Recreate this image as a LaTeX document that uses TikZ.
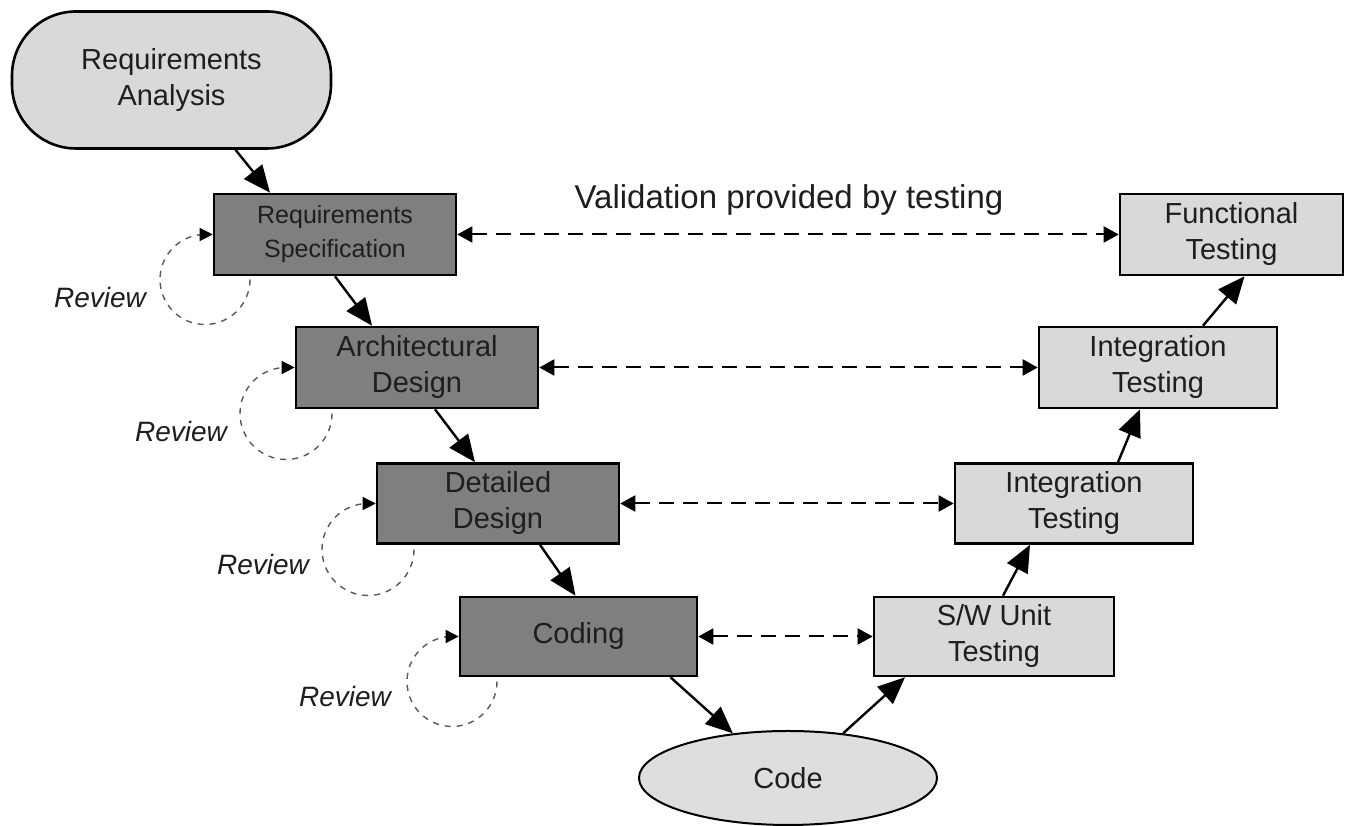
\documentclass[tikz,border=0pt]{standalone}
\usepackage{fontspec}
\setmainfont{Liberation Sans}
\usetikzlibrary{arrows.meta,shapes.geometric}
\definecolor{darkfill}{HTML}{7F7F7F}
\definecolor{lightfill}{HTML}{D9D9D9}
\definecolor{codefill}{HTML}{DEDEDE}
\definecolor{txt}{HTML}{1E1E1E}
\begin{document}
\begin{tikzpicture}[x=1pt,y=1pt,
  boxbase/.style={draw=black, line width=2.6pt, minimum height=81pt, inner sep=0pt, align=center, text=txt, font=\fontsize{29}{36}\selectfont},
  darkbox/.style={boxbase, fill=darkfill, minimum width=242pt},
  lightbox/.style={boxbase, fill=lightfill, minimum width=238pt},
  flow/.style={line width=2.4pt, -{Triangle[length=27pt,width=23pt]}},
  valid/.style={line width=2pt, dash pattern=on 15pt off 9pt, {Triangle[length=15pt,width=16pt]}-{Triangle[length=15pt,width=16pt]}},
  loopline/.style={line width=1.4pt, draw=black!65, dash pattern=on 6pt off 6pt, -{Triangle[length=13pt,width=13pt,color=black]}},
  reviewlbl/.style={font=\fontsize{28}{34}\selectfont\itshape, text=txt}
]
\useasboundingbox (0,0) rectangle (1345,826);

% nodes
\node[boxbase, fill=lightfill, minimum width=319pt, minimum height=137pt, rounded corners=64pt] (ra) at (171.5,746) {Requirements\\Analysis};
\node[darkbox, font=\fontsize{25}{34}\selectfont] (spec) at (335,591.5) {Requirements\\Specification};
\node[darkbox] (arch) at (417,458.5) {Architectural\\Design};
\node[darkbox, minimum height=80pt] (det) at (498,322.5) {Detailed\\Design};
\node[darkbox, minimum width=237pt, minimum height=79pt] (cod) at (578.5,189.5) {Coding};
\node[ellipse, draw=black, line width=2pt, fill=codefill, minimum width=298pt, minimum height=94pt, inner sep=0pt, text=txt, font=\fontsize{29}{36}\selectfont] (code) at (788,48) {Code};
\node[lightbox, minimum width=240pt, minimum height=79pt] (unit) at (994,189.5) {S/W Unit\\Testing};
\node[lightbox, minimum height=80pt] (intl) at (1074,322.5) {Integration\\Testing};
\node[lightbox] (intu) at (1158,458.5) {Integration\\Testing};
\node[lightbox, minimum width=223pt] (func) at (1231.5,591.5) {Functional\\Testing};

\node[font=\fontsize{33}{40}\selectfont, text=txt] (vlbl) at (789,626) {Validation provided by testing};

% flow arrows
\draw[flow] ([xshift=64pt]ra.south) -- ([xshift=-65pt]spec.north);
\draw[flow] (spec.south) -- ([xshift=-45pt]arch.north);
\draw[flow] ([xshift=18pt]arch.south) -- ([xshift=-23pt]det.north);
\draw[flow] ([xshift=42pt]det.south) -- ([xshift=-3pt]cod.north);
\draw[flow] ([xshift=92pt]cod.south) -- (code.141);
\draw[flow] (code.39) -- ([xshift=-89pt]unit.south);
\draw[flow] ([xshift=9pt]unit.north) -- ([xshift=-44pt]intl.south);
\draw[flow] ([xshift=44pt]intl.north) -- ([xshift=-18pt]intu.south);
\draw[flow] ([xshift=45pt]intu.north) -- ([xshift=13pt]func.south);

% validation arrows
\draw[valid] (spec.east) -- (func.west);
\draw[valid] (arch.east) -- (intu.west);
\draw[valid] (det.east) -- (intl.west);
\draw[valid] (cod.east) -- (unit.west);

% review loops
\coordinate (l1) at (250,546.5);
\coordinate (l2) at (332,412.5);
\coordinate (l3) at (414,276.5);
\coordinate (l4) at (497,144.5);
\draw[loopline] (l1) arc[start angle=0, end angle=-270, radius=45pt] -- (spec.west);
\draw[loopline] (l2) arc[start angle=0, end angle=-270, radius=46pt] -- (arch.west);
\draw[loopline] (l3) arc[start angle=0, end angle=-270, radius=46pt] -- (det.west);
\draw[loopline] (l4) arc[start angle=0, end angle=-270, radius=45pt] -- (cod.west);

\node[reviewlbl] (r1) at (100,528) {Review};
\node[reviewlbl] (r2) at (181,394) {Review};
\node[reviewlbl] (r3) at (263,261) {Review};
\node[reviewlbl] (r4) at (345,129) {Review};
\end{tikzpicture}
\end{document}
